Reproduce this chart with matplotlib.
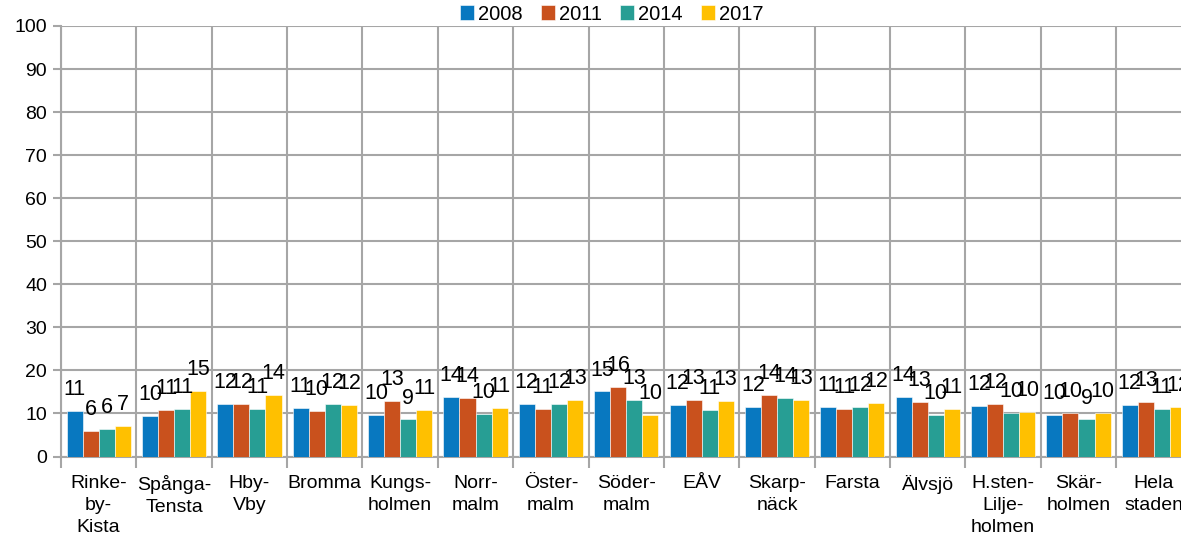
import numpy as np
import matplotlib
matplotlib.use('Agg')
import matplotlib.pyplot as plt

plt.rcParams['font.family'] = ['Liberation Sans', 'DejaVu Sans']

#data
districts = ['Rinke-\nby-\nKista', 'Spånga-\nTensta', 'Hby-\nVby', 'Bromma', 'Kungs-\nholmen',
             'Norr-\nmalm', 'Öster-\nmalm', 'Söder-\nmalm', 'EÅV', 'Skarp-\nnäck',
             'Farsta', 'Älvsjö', 'H.sten-\nLilje-\nholmen', 'Skär-\nholmen', 'Hela\nstaden']
years = ['2008', '2011', '2014', '2017']
v2008 = [10.6, 9.5, 12.3, 11.2, 9.6, 13.8, 12.3, 15.1, 12.0, 11.6, 11.4, 13.8, 11.7, 9.7, 12.0]
v2011 = [5.9, 10.9, 12.2, 10.5, 13.0, 13.7, 11.1, 16.2, 13.1, 14.2, 11.1, 12.6, 12.3, 10.0, 12.6]
v2014 = [6.3, 11.0, 11.0, 12.3, 8.6, 9.8, 12.1, 13.1, 10.9, 13.6, 11.5, 9.6, 10.1, 8.6, 11.0]
v2017 = [7.0, 15.2, 14.3, 11.9, 10.7, 11.2, 13.1, 9.6, 12.8, 13.1, 12.4, 11.0, 10.4, 10.0, 11.5]
colors = ['#0878C0', '#C9511D', '#279E94', '#FFC000']

series = [v2008, v2011, v2014, v2017]

fig = plt.figure(figsize=(11.81, 5.42), dpi=100)
ax = fig.add_axes([61/1181, 1-456.5/542, 1130.5/1181, 430.5/542])

x = np.arange(len(districts))
w = 0.213
grid_c = '#A6A6A6'

for i, vals in enumerate(series):
    pos = x + (i - 1.5) * w
    ax.bar(pos, vals, w, color=colors[i], label=years[i], zorder=3,
           edgecolor='white', linewidth=0.4)
    for xp, v in zip(pos, vals):
        ax.annotate('%.0f' % v, (xp, v), xytext=(0, 11.5), textcoords='offset points',
                    ha='center', va='baseline', fontsize=15.5, zorder=4)

ax.set_xlim(-0.5, len(districts) - 0.5)
ax.set_ylim(0, 100)
ax.set_yticks(np.arange(0, 101, 10))
ax.set_xticks(x)
ax.set_xticklabels(districts, fontsize=14, linespacing=1.42)
ax.set_xticks(np.arange(-0.5, len(districts), 1), minor=True)
ax.tick_params(axis='x', which='major', length=0, pad=13)
ax.tick_params(axis='x', which='minor', length=8, color=grid_c, width=1.5)
ax.tick_params(axis='y', length=6, color=grid_c, width=1.5, labelsize=14, pad=4)

ax.grid(True, axis='y', color=grid_c, linewidth=1.5, zorder=0)
ax.grid(True, axis='x', which='minor', color=grid_c, linewidth=1.5, zorder=0)
for s in ['top', 'right']:
    ax.spines[s].set_visible(False)
for s in ['left', 'bottom']:
    ax.spines[s].set_color(grid_c)
    ax.spines[s].set_linewidth(1.5)

fig.legend(loc='center', bbox_to_anchor=(612/1181, 1-14/542), ncol=4, frameon=False,
           fontsize=14.5, handlelength=0.7, handleheight=0.7, handletextpad=0.2,
           columnspacing=0.9, borderaxespad=0)

plt.savefig('out.png', dpi=100)
